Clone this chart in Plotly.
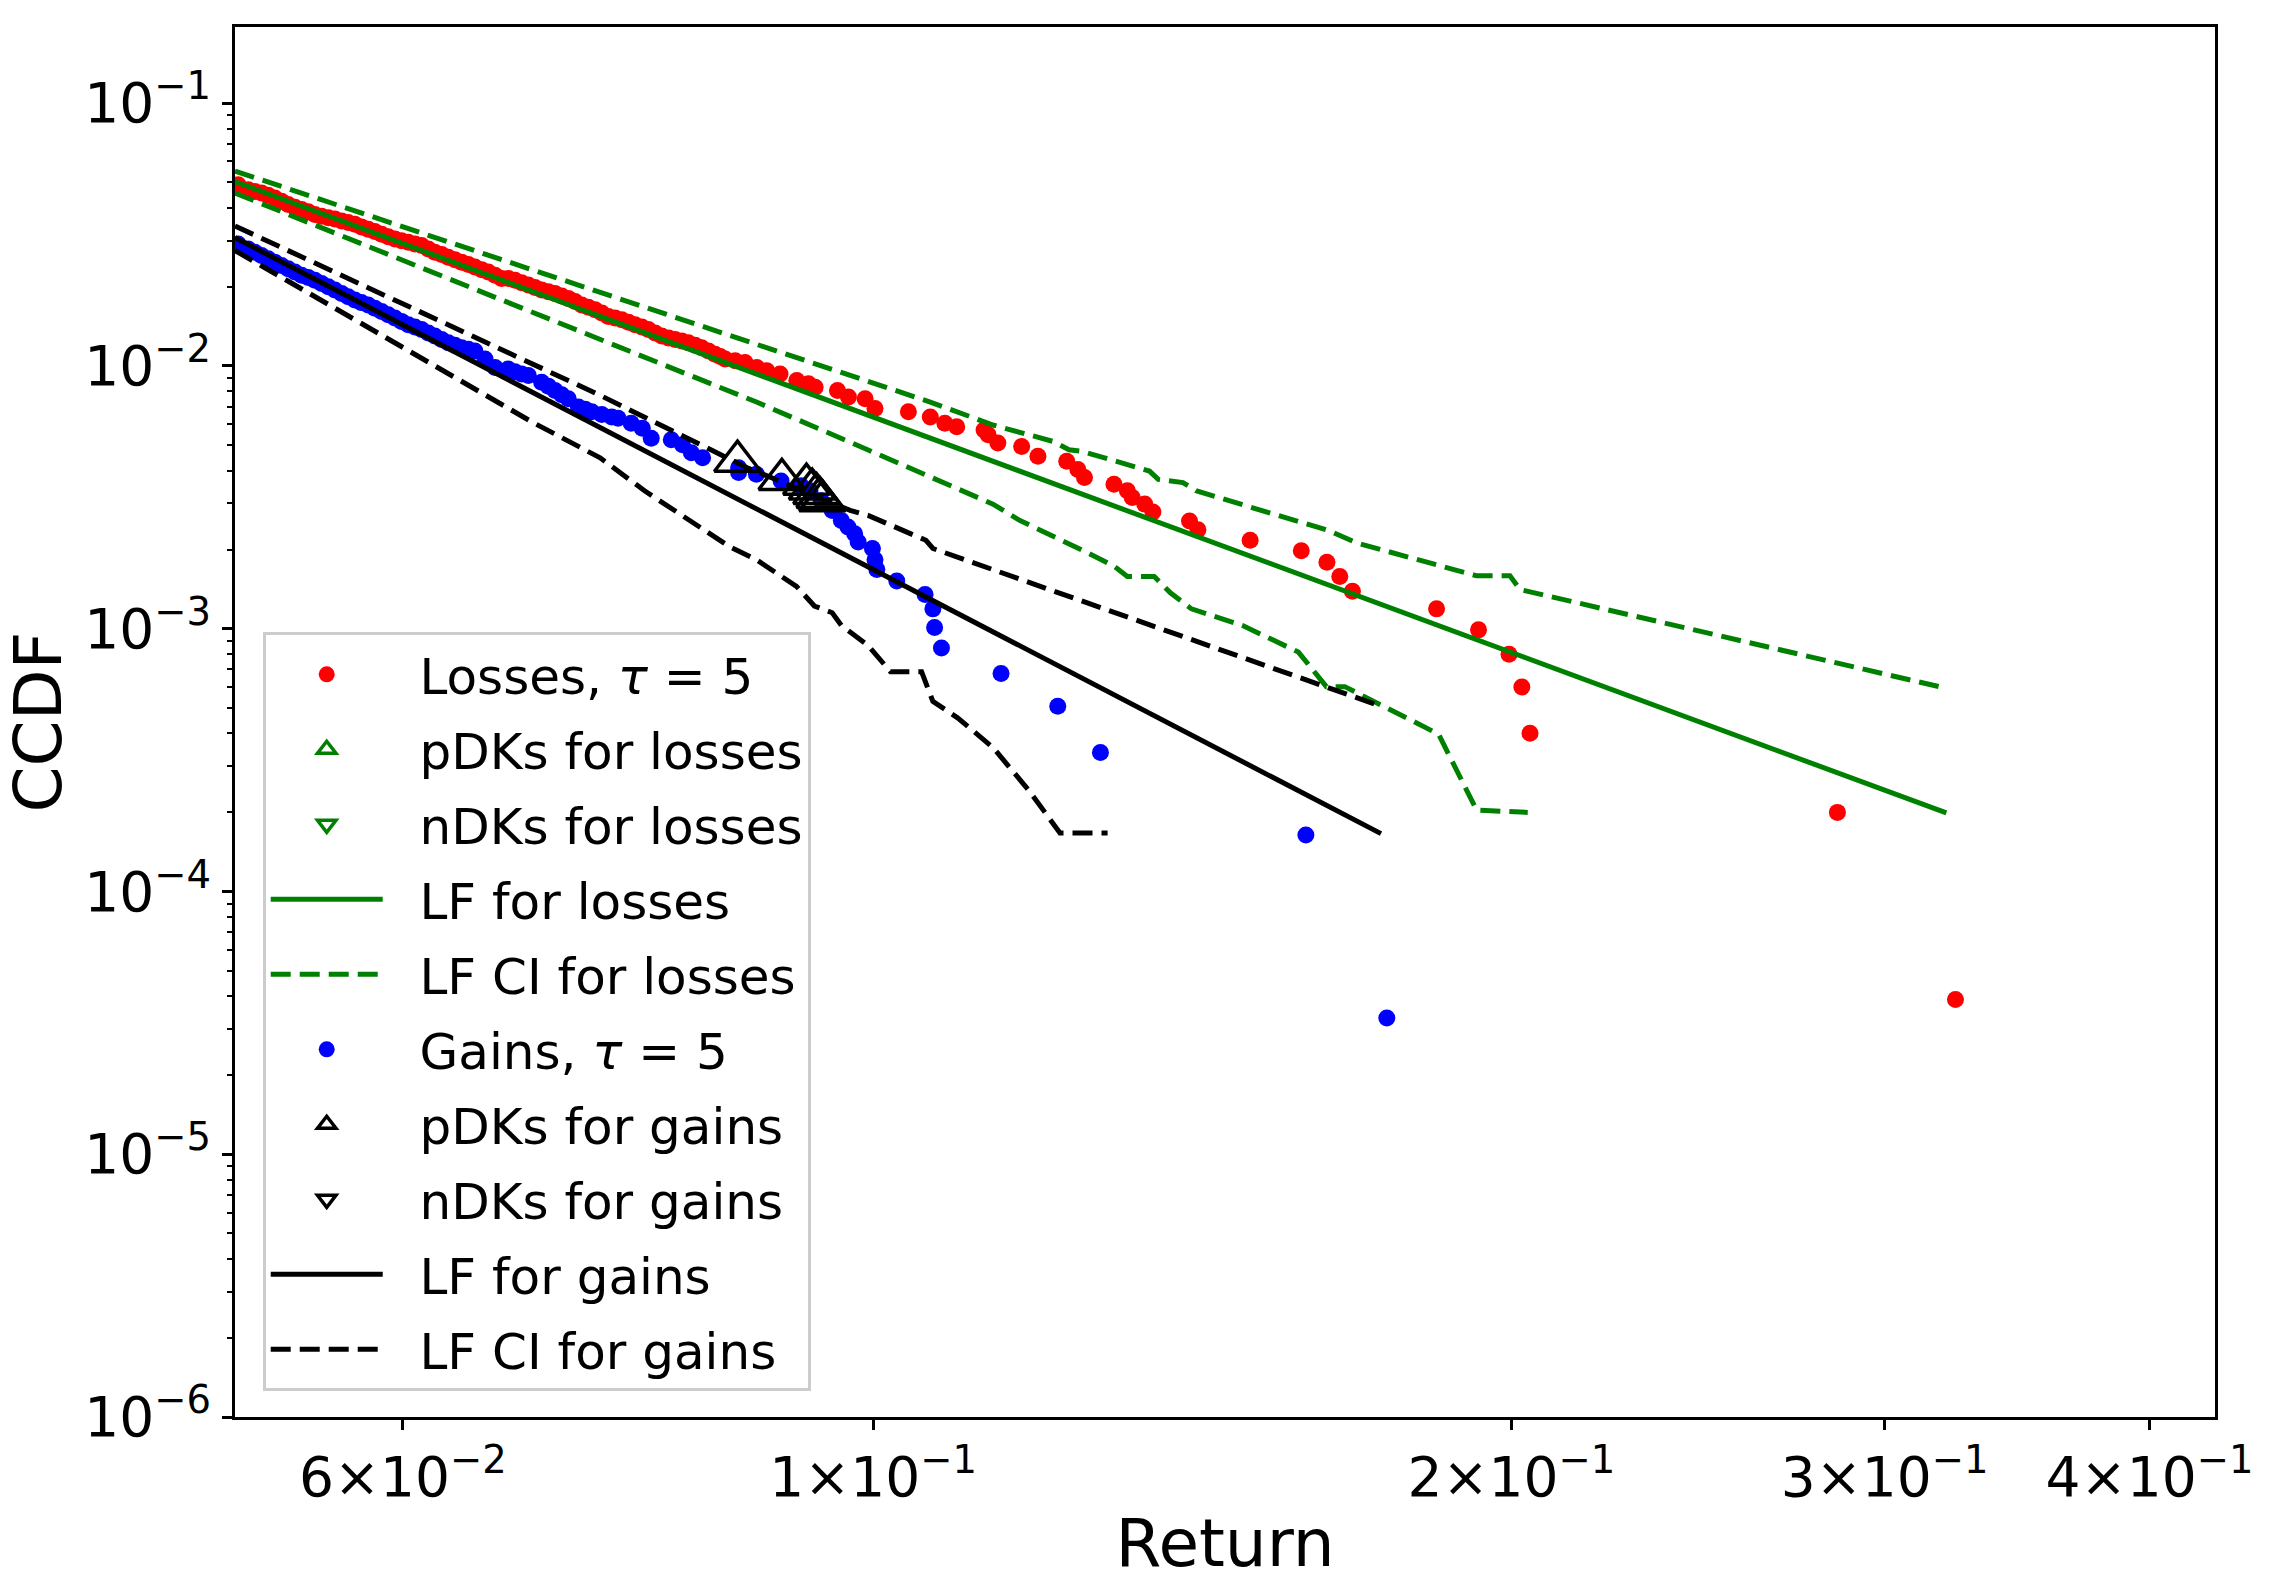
"""CCDF of 5-day losses and gains with LF fits, confidence bands and DK points."""
import plotly.graph_objects as go
import math

# Losses, tau = 5
loss_x = [0.05017, 0.05072, 0.05109, 0.05146, 0.05183, 0.05221, 0.05259, 0.05297, 0.05336, 0.05375,
          0.05414, 0.05453, 0.05493, 0.05533, 0.05573, 0.05614, 0.05654, 0.05695, 0.05736, 0.05778,
          0.05820, 0.05863, 0.05905, 0.05948, 0.05991, 0.06035, 0.06079, 0.06123, 0.06168, 0.06212,
          0.06258, 0.06303, 0.06349, 0.06395, 0.06442, 0.06488, 0.06536, 0.06583, 0.06632, 0.06679,
          0.06729, 0.06777, 0.06826, 0.06876, 0.06926, 0.06976, 0.07027, 0.07078, 0.07130, 0.07181,
          0.07234, 0.07286, 0.07339, 0.07393, 0.07447, 0.07500, 0.07555, 0.07610, 0.07666, 0.07721,
          0.07778, 0.07833, 0.07891, 0.07948, 0.08006, 0.08064, 0.08123, 0.08181, 0.08242, 0.08300,
          0.08362, 0.08422, 0.08469, 0.08514, 0.08608, 0.08701,
          0.08813, 0.08909, 0.09038, 0.09204, 0.09321, 0.09389, 0.09620, 0.09735, 0.09913, 0.1002,
          0.1039, 0.1064, 0.1081, 0.1095, 0.1128, 0.1133, 0.1145, 0.1175, 0.1196, 0.1234,
          0.1249, 0.1258, 0.1299, 0.1318, 0.1325, 0.1343, 0.1355, 0.1410, 0.1423, 0.1506,
          0.1592, 0.1637, 0.1660, 0.1683, 0.1844, 0.1930, 0.1995, 0.2023, 0.2041, 0.2850, 0.3240]
loss_y = [0.04891, 0.04684, 0.04617, 0.04552, 0.04460, 0.04359, 0.04234, 0.04113, 0.04020, 0.03940,
          0.03862, 0.03773, 0.03710, 0.03667, 0.03625, 0.03564, 0.03512, 0.03461, 0.03383, 0.03314,
          0.03249, 0.03174, 0.03103, 0.03040, 0.02998, 0.02954, 0.02911, 0.02871, 0.02788, 0.02707,
          0.02654, 0.02593, 0.02534, 0.02483, 0.02434, 0.02378, 0.02325, 0.02278, 0.02214, 0.02150,
          0.02151, 0.02121, 0.02072, 0.02031, 0.01990, 0.01944, 0.01916, 0.01888, 0.01846, 0.01808,
          0.01758, 0.01707, 0.01674, 0.01635, 0.01589, 0.01543, 0.01522, 0.01500, 0.01466, 0.01436,
          0.01408, 0.01376, 0.01336, 0.01299, 0.01279, 0.01262, 0.01244, 0.01225, 0.01198, 0.01173,
          0.01140, 0.01108, 0.01086, 0.01062, 0.01046, 0.01031,
          0.00987, 0.00959, 0.00932, 0.00880, 0.00855, 0.00830, 0.00807, 0.00762, 0.00751, 0.00689,
          0.00669, 0.00640, 0.00605, 0.00587, 0.00571, 0.00547, 0.00509, 0.00494, 0.00453, 0.00434,
          0.00404, 0.00376, 0.00355, 0.00335, 0.00316, 0.00298, 0.00278, 0.00257, 0.00238, 0.00217,
          0.00198, 0.00179, 0.00158, 0.00139, 0.00119, 0.00099, 0.00080, 0.00060, 0.00040, 0.00020, 0.0000388]

# Gains, tau = 5
gain_x = [0.05017, 0.05072, 0.05109, 0.05146, 0.05183, 0.05221, 0.05259, 0.05297, 0.05336, 0.05375,
          0.05414, 0.05453, 0.05493, 0.05533, 0.05573, 0.05614, 0.05654, 0.05695, 0.05736, 0.05778,
          0.05820, 0.05863, 0.05905, 0.05948, 0.05991, 0.06035, 0.06079, 0.06123, 0.06168, 0.06212,
          0.06258, 0.06303, 0.06349, 0.06395, 0.06442, 0.06488, 0.06560, 0.06632, 0.06727, 0.06777,
          0.06826, 0.06876, 0.06976, 0.07027, 0.07078, 0.07130, 0.07181, 0.07260, 0.07313, 0.07366,
          0.07447, 0.07528,
          0.07580, 0.07689, 0.07782, 0.07858, 0.08031, 0.08129, 0.08208, 0.08309, 0.08640, 0.08640,
          0.08809, 0.09048, 0.09247, 0.09337, 0.09451, 0.09565, 0.09660, 0.09730, 0.09801, 0.09838,
          0.09992, 0.1002, 0.1004, 0.1026, 0.1058, 0.1067, 0.1069, 0.1077, 0.1149, 0.1222,
          0.1280, 0.1600, 0.1747]
gain_y = [0.02910, 0.02787, 0.02708, 0.02631, 0.02557, 0.02483, 0.02413, 0.02344, 0.02278, 0.02214,
          0.02169, 0.02121, 0.02060, 0.02002, 0.01944, 0.01888, 0.01835, 0.01783, 0.01742, 0.01707,
          0.01659, 0.01611, 0.01566, 0.01521, 0.01478, 0.01436, 0.01408, 0.01376, 0.01336, 0.01299,
          0.01261, 0.01225, 0.01198, 0.01173, 0.01157, 0.01140, 0.01062, 0.00987, 0.00973, 0.00951,
          0.00932, 0.00919, 0.00867, 0.00838, 0.00807, 0.00777, 0.00751, 0.00698, 0.00685, 0.00669,
          0.00654, 0.00640,
          0.00632, 0.00605, 0.00579, 0.00531, 0.00524, 0.00501, 0.00467, 0.00447, 0.00410, 0.00393,
          0.00387, 0.00365, 0.00350, 0.00335, 0.00307, 0.00282, 0.00258, 0.00244, 0.00230, 0.00214,
          0.00202, 0.00183, 0.00168, 0.00152, 0.00135, 0.00119, 0.00101, 0.000844, 0.000676, 0.000507,
          0.000338, 0.000164, 0.000033]

# pDKs for gains (the only DK points that show up)
pdk_gain_x = [0.08630, 0.09056, 0.09301, 0.09359, 0.09404, 0.09436, 0.09464]
pdk_gain_y = [0.00434, 0.00370, 0.00355, 0.00340, 0.00327, 0.00316, 0.00307]

# LF fit and CI for losses
lf_loss_x = [0.05, 0.3208]
lf_loss_y = [0.0503, 0.000199]
ci_loss_hi_x = [0.05, 0.1064, 0.1139, 0.1216, 0.1237, 0.1255, 0.1350, 0.1363, 0.1400, 0.1420,
                0.1641, 0.1673, 0.1691, 0.1926, 0.1997, 0.2019, 0.3208]
ci_loss_hi_y = [0.0552, 0.00729, 0.00596, 0.00516, 0.00480, 0.00473, 0.00398, 0.00370, 0.00360, 0.00335,
                0.00236, 0.00220, 0.00212, 0.00159, 0.00159, 0.00141, 0.000593]
ci_loss_lo_x = [0.05, 0.0881, 0.0994, 0.1139, 0.1173, 0.1237, 0.1255, 0.1299, 0.1318, 0.1357,
                0.1381, 0.1413, 0.1493, 0.1587, 0.1636, 0.1669, 0.1827, 0.1848, 0.1926, 0.2036]
ci_loss_lo_y = [0.0455, 0.00729, 0.00480, 0.00298, 0.00258, 0.00211, 0.00199, 0.00173, 0.00158, 0.00158,
                0.00137, 0.00119, 0.00103, 0.000815, 0.000602, 0.000602, 0.000420, 0.000397, 0.000204, 0.000200]

# LF fit and CI for gains
lf_gain_x = [0.05, 0.1736]
lf_gain_y = [0.0308, 0.000166]
ci_gain_hi_x = [0.05, 0.07434, 0.08722, 0.09753, 0.09945, 0.1059, 0.1067, 0.1731]
ci_gain_hi_y = [0.0341, 0.00773, 0.00410, 0.00282, 0.00270, 0.00217, 0.00202, 0.000511]
ci_gain_lo_x = [0.05, 0.06901, 0.07434, 0.07801, 0.08557, 0.08809, 0.09201, 0.09382, 0.09565, 0.09660,
                0.09945, 0.1019, 0.1054, 0.1067, 0.1096, 0.1139, 0.1184, 0.1225, 0.1290]
ci_gain_lo_y = [0.0275, 0.00613, 0.00447, 0.00335, 0.00205, 0.00183, 0.00145, 0.00122, 0.00115, 0.00103,
                0.000864, 0.000686, 0.000686, 0.000529, 0.000458, 0.000353, 0.000243, 0.000167, 0.000167]

# Ticks
x_ticks = [0.06, 0.1, 0.2, 0.3, 0.4]
x_labels = ['6×10<sup>−2</sup>', '1×10<sup>−1</sup>', '2×10<sup>−1</sup>',
            '3×10<sup>−1</sup>', '4×10<sup>−1</sup>']
y_ticks = [1e-6, 1e-5, 1e-4, 1e-3, 1e-2, 1e-1]
y_labels = ['10<sup>−6</sup>', '10<sup>−5</sup>', '10<sup>−4</sup>',
            '10<sup>−3</sup>', '10<sup>−2</sup>', '10<sup>−1</sup>']
y_minor = [k * 10 ** e for e in range(-6, 0) for k in range(2, 10)]

GREEN = '#008000'
DASH = '20px,9px'
PAD = '\u00a0\u00a0'  # push legend text right, like the matplotlib legend

fig = go.Figure()


def add(x, y, name, legend=True, **kw):
    fig.add_trace(go.Scatter(x=x, y=y, name=PAD + name, legendgroup=name,
                             showlegend=legend, **kw))


add(loss_x, loss_y, 'Losses, <i>τ</i> = 5', mode='markers',
    marker=dict(color='red', size=17))
add([None], [None], 'pDKs for losses', mode='markers',
    marker=dict(symbol='triangle-up-open', color=GREEN, size=40, line=dict(width=3.5)))
add([None], [None], 'nDKs for losses', mode='markers',
    marker=dict(symbol='triangle-down-open', color=GREEN, size=40, line=dict(width=3.5)))
add(lf_loss_x, lf_loss_y, 'LF for losses', mode='lines',
    line=dict(color=GREEN, width=5))
add(ci_loss_hi_x, ci_loss_hi_y, 'LF CI for losses', mode='lines',
    line=dict(color=GREEN, width=5, dash=DASH))
add(ci_loss_lo_x, ci_loss_lo_y, 'LF CI for losses', legend=False, mode='lines',
    line=dict(color=GREEN, width=5, dash=DASH))
add(gain_x, gain_y, 'Gains, <i>τ</i> = 5', mode='markers',
    marker=dict(color='blue', size=17))
add(pdk_gain_x, pdk_gain_y, 'pDKs for gains', mode='markers',
    marker=dict(symbol='triangle-up-open', color='black', size=40, line=dict(width=3.5)))
add([None], [None], 'nDKs for gains', mode='markers',
    marker=dict(symbol='triangle-down-open', color='black', size=40, line=dict(width=3.5)))
add(lf_gain_x, lf_gain_y, 'LF for gains', mode='lines',
    line=dict(color='black', width=5))
add(ci_gain_hi_x, ci_gain_hi_y, 'LF CI for gains', mode='lines',
    line=dict(color='black', width=5, dash=DASH))
add(ci_gain_lo_x, ci_gain_lo_y, 'LF CI for gains', legend=False, mode='lines',
    line=dict(color='black', width=5, dash=DASH))

fig.update_layout(width=2281, height=1582,
                  margin=dict(l=235, r=66, t=27, b=149),
                  plot_bgcolor='white', paper_bgcolor='white',
                  font=dict(family='DejaVu Sans', size=55, color='black'),
                  legend=dict(x=0.014, y=0.0185, xanchor='left', yanchor='bottom',
                              font=dict(size=50), bgcolor='rgba(255,255,255,0.8)',
                              bordercolor='#cccccc', borderwidth=3,
                              traceorder='grouped', tracegroupgap=7, itemwidth=112))
fig.update_xaxes(type='log', range=[math.log10(0.05), math.log10(0.4295)],
                 tickvals=x_ticks, ticktext=x_labels,
                 showline=True, linecolor='black', linewidth=3, mirror=True,
                 ticks='outside', ticklen=10, tickwidth=2.5, tickcolor='black',
                 showgrid=False, zeroline=False,
                 title=dict(text='Return', font=dict(size=66), standoff=15))
fig.update_yaxes(type='log', range=[-6, -0.71],
                 tickvals=y_ticks, ticktext=y_labels,
                 minor=dict(tickvals=y_minor, ticks='outside', ticklen=5, tickwidth=2, tickcolor='black'),
                 showline=True, linecolor='black', linewidth=3, mirror=True,
                 ticks='outside', ticklen=10, tickwidth=2.5, tickcolor='black',
                 showgrid=False, zeroline=False,
                 title=dict(text='CCDF', font=dict(size=66), standoff=15))

fig.write_html("out.html", config={'displayModeBar': False},
               post_script="document.body.style.margin='0';")
